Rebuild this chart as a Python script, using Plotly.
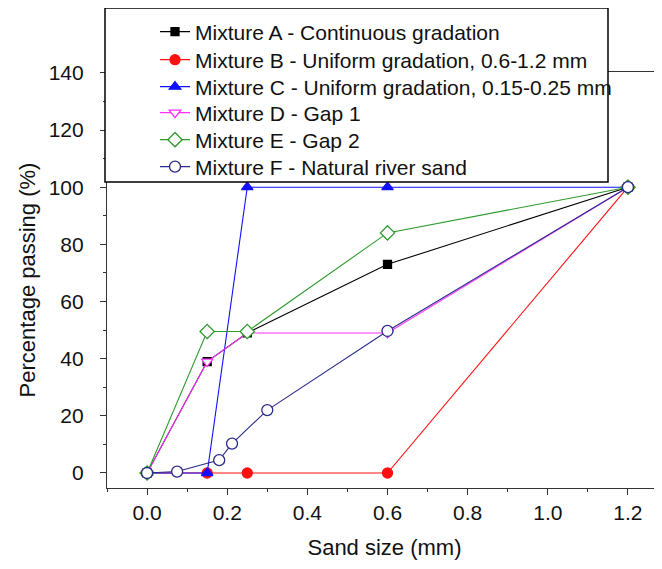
import plotly.graph_objects as go

# ---- data ----
names = [
    "Mixture A - Continuous gradation",
    "Mixture B - Uniform gradation, 0.6-1.2 mm",
    "Mixture C - Uniform gradation, 0.15-0.25 mm",
    "Mixture D - Gap 1",
    "Mixture E - Gap 2",
    "Mixture F - Natural river sand",
]
x_A = [0, 0.15, 0.25, 0.6, 1.2]
y_A = [0, 39, 49, 73, 100]
x_B = [0, 0.15, 0.25, 0.6, 1.2]
y_B = [0, 0, 0, 0, 100]
x_C = [0, 0.15, 0.25, 0.6, 1.2]
y_C = [0, 0, 100, 100, 100]
x_D = [0, 0.15, 0.25, 0.6, 1.2]
y_D = [0, 39, 49, 49, 100]
x_E = [0, 0.15, 0.25, 0.6, 1.2]
y_E = [0, 49.5, 49.5, 84, 100]
x_F = [0, 0.075, 0.18, 0.212, 0.3, 0.6, 1.2]
y_F = [0, 0.5, 4.5, 10.3, 22, 49.7, 100]

x_ticks = [0.0, 0.2, 0.4, 0.6, 0.8, 1.0, 1.2]
y_ticks = [0, 20, 40, 60, 80, 100, 120, 140]

colors = ["#000000", "#ff1010", "#1010ff", "#ff30ff", "#2e9a2e", "#2a2a8c"]
symbols = ["square", "circle", "triangle-up", "triangle-down-open", "diamond-open", "circle-open"]
sizes = [8, 10, 10, 10, 11, 11]

series = [(x_A, y_A), (x_B, y_B), (x_C, y_C), (x_D, y_D), (x_E, y_E), (x_F, y_F)]

font = "Liberation Sans, Arial, sans-serif"
yr = [-5.25, 140.3]

# one legend per row so the row pitch can match the original
legend_rows_y = [1.0962, 1.0288, 0.9639, 0.9014, 0.8365, 0.7716]
legend_ids = ["legend", "legend2", "legend3", "legend4", "legend5", "legend6"]

fig = go.Figure()
for i, (xs, ys) in enumerate(series):
    fill = "white" if symbols[i].endswith("open") else colors[i]
    sym = symbols[i].replace("-open", "")
    fig.add_trace(go.Scatter(
        x=xs, y=ys, name=names[i], mode="lines+markers",
        line=dict(color=colors[i], width=1.1),
        marker=dict(symbol=sym, size=sizes[i], color=fill,
                    line=dict(color=colors[i], width=1.3)),
        legend=legend_ids[i],
    ))

# legend frame (opaque, covers part of plot like the original)
fig.add_shape(type="rect", xref="paper", yref="paper",
              x0=-0.0036, x1=0.9027, y0=0.7356, y1=1.1538,
              line=dict(color="black", width=1.5), fillcolor="white", layer="above")

legends = {}
for lid, ly in zip(legend_ids, legend_rows_y):
    legends[lid] = dict(x=0.0865, y=ly, xanchor="left", yanchor="middle",
                        bgcolor="rgba(0,0,0,0)", borderwidth=0,
                        font=dict(size=21, family=font, color="#111"))

fig.update_layout(
    width=654, height=561,
    margin=dict(l=99, r=0, t=64, b=81),
    paper_bgcolor="white", plot_bgcolor="white",
    font=dict(family=font, size=21, color="#111"),
    showlegend=True,
    **legends,
    xaxis=dict(range=[-0.1, 1.285], tickvals=x_ticks, tickformat=".1f",
               showgrid=False, zeroline=False, showline=True, linecolor="#333",
               linewidth=1.2, mirror=True, ticks="outside", ticklen=6,
               tickcolor="#333", tickfont=dict(size=21),
               minor=dict(dtick=0.1, ticks="outside", ticklen=3, tickcolor="#333"),
               title=dict(text="Sand size (mm)", font=dict(size=22), standoff=16)),
    yaxis=dict(range=yr, tickvals=y_ticks, showgrid=False, zeroline=False,
               showline=True, linecolor="#333", linewidth=1.2,
               ticks="outside", ticklen=6, tickcolor="#333", tickfont=dict(size=21),
               ticklabelstandoff=12,
               minor=dict(dtick=10, ticks="outside", ticklen=3, tickcolor="#333"),
               title=dict(text="Percentage passing (%)", font=dict(size=22), standoff=6)),
    yaxis2=dict(range=yr, overlaying="y", side="right", tickvals=y_ticks,
                showticklabels=False, showgrid=False, zeroline=False, showline=False,
                ticks="inside", ticklen=6, tickcolor="#333"),
)

fig.write_html("out.html")
